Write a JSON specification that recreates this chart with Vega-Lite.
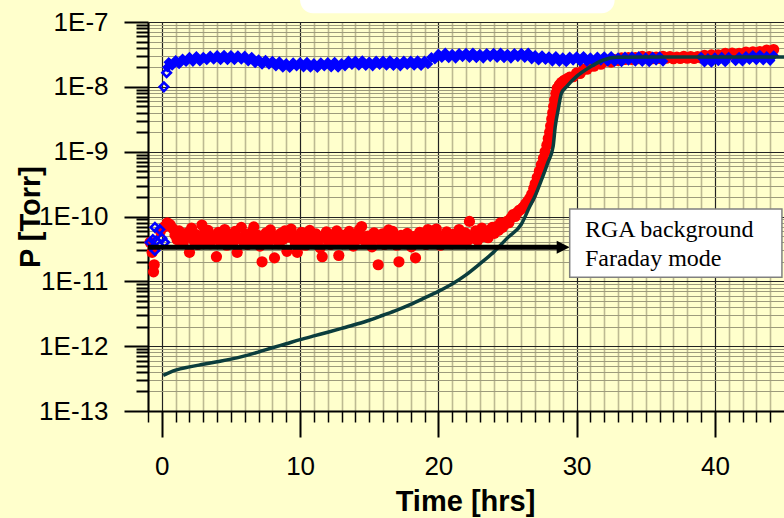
{
  "$schema": "https://vega.github.io/schema/vega-lite/v6.json",
  "width": 636,
  "height": 389,
  "autosize": {"type": "none"},
  "padding": {"left": 148, "top": 22, "right": 0, "bottom": 107},
  "background": "#FFFFCC",
  "config": {"view": {"stroke": null}},
  "resolve": {"axis": {"x": "independent", "y": "independent"}},
  "layer": [
    {
      "data": {"values": [{"x1": 10.0, "x2": 32.75, "p1": 1e-6, "p2": 1.36e-7}]},
      "mark": {"type": "rect", "fill": "#FFFFFF", "cornerRadius": 13},
      "encoding": {
        "x": {"field": "x1", "type": "quantitative", "scale": {"domain": [-1, 45], "nice": false, "zero": false}, "axis": null},
        "x2": {"field": "x2"},
        "y": {"field": "p1", "type": "quantitative", "scale": {"type": "log", "domain": [1e-13, 1e-7], "nice": false}, "axis": null},
        "y2": {"field": "p2"}
      }
    },
    {
      "data": {"values": [
        {"t":-0.85,"p":4.0e-11},{"t":-0.7,"p":2.8e-11},{"t":-0.55,"p":1.8e-11},{"t":-0.6,"p":1.4e-11},{"t":-0.1,"p":5.9e-11},{"t":0.2,"p":7.0e-11},{"t":0.4,"p":8.0e-11},{"t":0.6,"p":7.5e-11},
        {"t":0.8,"p":6.5e-11},{"t":0.95,"p":5.2e-11},{"t":1.1,"p":4.4e-11},{"t":1.25,"p":6.0e-11},{"t":1.4,"p":5.1e-11},{"t":1.55,"p":3.9e-11},{"t":1.7,"p":4.7e-11},{"t":1.85,"p":5.6e-11},{"t":2.0,"p":2.8e-11},{"t":2.15,"p":6.6e-11},{"t":2.3,"p":4.3e-11},{"t":2.45,"p":5.3e-11},{"t":2.6,"p":3.7e-11},{"t":2.75,"p":4.9e-11},{"t":2.9,"p":7.4e-11},{"t":3.05,"p":5.5e-11},{"t":3.2,"p":4.2e-11},{"t":3.35,"p":6.1e-11},{"t":3.5,"p":3.8e-11},{"t":3.65,"p":5.0e-11},{"t":3.8,"p":4.5e-11},{"t":3.95,"p":2.4e-11},{"t":4.1,"p":5.7e-11},{"t":4.25,"p":4.0e-11},{"t":4.4,"p":4.8e-11},{"t":4.55,"p":6.3e-11},{"t":4.7,"p":3.6e-11},{"t":4.85,"p":5.2e-11},{"t":5.0,"p":4.4e-11},{"t":5.15,"p":3.9e-11},{"t":5.3,"p":5.9e-11},{"t":5.45,"p":2.8e-11},{"t":5.6,"p":4.6e-11},{"t":5.75,"p":6.8e-11},{"t":5.9,"p":4.1e-11},{"t":6.05,"p":5.3e-11},{"t":6.2,"p":3.7e-11},{"t":6.35,"p":4.9e-11},{"t":6.5,"p":5.8e-11},{"t":6.65,"p":6.9e-11},{"t":6.8,"p":4.3e-11},{"t":6.95,"p":5.1e-11},{"t":7.1,"p":3.5e-11},{"t":7.25,"p":2.0e-11},{"t":7.4,"p":4.7e-11},{"t":7.55,"p":5.6e-11},{"t":7.7,"p":4.0e-11},{"t":7.85,"p":6.2e-11},{"t":8.0,"p":4.6e-11},{"t":8.15,"p":2.3e-11},{"t":8.3,"p":5.0e-11},{"t":8.45,"p":3.8e-11},{"t":8.6,"p":5.5e-11},{"t":8.75,"p":4.4e-11},{"t":8.9,"p":6.0e-11},{"t":9.05,"p":2.9e-11},{"t":9.2,"p":4.8e-11},{"t":9.35,"p":6.4e-11},{"t":9.5,"p":5.2e-11},{"t":9.65,"p":3.9e-11},{"t":9.8,"p":2.8e-11},{"t":9.95,"p":4.5e-11},{"t":10.1,"p":5.7e-11},{"t":10.25,"p":4.2e-11},{"t":10.4,"p":3.6e-11},{"t":10.55,"p":5.0e-11},{"t":10.7,"p":6.1e-11},{"t":10.85,"p":4.7e-11},{"t":11.0,"p":3.9e-11},{"t":11.15,"p":5.4e-11},{"t":11.3,"p":4.3e-11},{"t":11.45,"p":3.3e-11},{"t":11.6,"p":2.4e-11},{"t":11.75,"p":4.9e-11},{"t":11.9,"p":5.8e-11},{"t":12.05,"p":4.1e-11},{"t":12.2,"p":3.7e-11},{"t":12.35,"p":5.2e-11},{"t":12.5,"p":4.5e-11},{"t":12.65,"p":6.0e-11},{"t":12.8,"p":2.5e-11},{"t":12.95,"p":4.0e-11},{"t":13.1,"p":5.1e-11},{"t":13.25,"p":3.8e-11},{"t":13.4,"p":4.7e-11},{"t":13.55,"p":5.9e-11},{"t":13.7,"p":4.2e-11},{"t":13.85,"p":3.5e-11},{"t":14.0,"p":5.3e-11},{"t":14.15,"p":4.4e-11},{"t":14.3,"p":6.3e-11},{"t":14.45,"p":7.0e-11},{"t":14.6,"p":4.6e-11},{"t":14.75,"p":3.9e-11},{"t":14.9,"p":5.0e-11},{"t":15.05,"p":4.1e-11},{"t":15.2,"p":3.4e-11},{"t":15.35,"p":5.6e-11},{"t":15.5,"p":4.8e-11},{"t":15.65,"p":1.8e-11},{"t":15.8,"p":4.3e-11},{"t":15.95,"p":5.4e-11},{"t":16.1,"p":3.7e-11},{"t":16.25,"p":4.9e-11},{"t":16.4,"p":6.2e-11},{"t":16.55,"p":4.0e-11},{"t":16.7,"p":5.9e-11},{"t":16.85,"p":4.5e-11},{"t":17.0,"p":3.6e-11},{"t":17.15,"p":2.0e-11},{"t":17.3,"p":5.1e-11},{"t":17.45,"p":4.2e-11},{"t":17.6,"p":3.8e-11},{"t":17.75,"p":5.5e-11},{"t":17.9,"p":4.6e-11},{"t":18.05,"p":3.4e-11},{"t":18.2,"p":4.9e-11},{"t":18.35,"p":2.3e-11},{"t":18.5,"p":4.4e-11},{"t":18.65,"p":5.7e-11},{"t":18.8,"p":4.0e-11},{"t":18.95,"p":5.2e-11},{"t":19.1,"p":3.7e-11},{"t":19.25,"p":6.3e-11},{"t":19.4,"p":4.7e-11},{"t":19.55,"p":3.9e-11},{"t":19.7,"p":5.4e-11},{"t":19.85,"p":6.4e-11},{"t":20.0,"p":4.3e-11},{"t":20.15,"p":3.6e-11},{"t":20.3,"p":5.0e-11},{"t":20.45,"p":4.5e-11},{"t":20.6,"p":5.8e-11},{"t":20.75,"p":4.1e-11},{"t":20.9,"p":3.8e-11},{"t":21.05,"p":5.3e-11},{"t":21.2,"p":4.8e-11},{"t":21.35,"p":3.9e-11},{"t":21.5,"p":6.3e-11},{"t":21.65,"p":5.1e-11},{"t":21.8,"p":4.4e-11},{"t":21.95,"p":5.6e-11},{"t":22.1,"p":4.2e-11},{"t":22.25,"p":8.4e-11},{"t":22.4,"p":5.0e-11},{"t":22.55,"p":4.6e-11},{"t":22.7,"p":6.0e-11},{"t":22.85,"p":4.3e-11},{"t":23.0,"p":5.4e-11},{"t":23.15,"p":6.6e-11},{"t":23.3,"p":4.9e-11},{"t":23.45,"p":5.8e-11},{"t":23.6,"p":4.7e-11},{"t":23.75,"p":6.2e-11},{"t":23.9,"p":6.8e-11},{"t":24.05,"p":5.5e-11},
        {"t":24.2,"p":7.0e-11},{"t":24.35,"p":6.1e-11},{"t":24.5,"p":8.0e-11},{"t":24.65,"p":6.8e-11},{"t":24.8,"p":7.6e-11},{"t":24.95,"p":8.4e-11},{"t":25.1,"p":8.0e-11},{"t":25.25,"p":9.5e-11},{"t":25.4,"p":1.07e-10},{"t":25.55,"p":1.0e-10},{"t":25.7,"p":1.15e-10},{"t":25.85,"p":1.25e-10},{"t":26.0,"p":1.3e-10},{"t":26.15,"p":1.4e-10},{"t":26.3,"p":1.55e-10},{"t":26.45,"p":1.7e-10},{"t":26.6,"p":1.9e-10},{"t":26.75,"p":2.2e-10},{"t":26.9,"p":2.7e-10},
        {"t":27.0,"p":3.2e-10},{"t":27.15,"p":4.0e-10},{"t":27.3,"p":5.0e-10},{"t":27.45,"p":6.3e-10},{"t":27.6,"p":7.9e-10},{"t":27.72,"p":1.0e-9},{"t":27.85,"p":1.26e-9},{"t":27.95,"p":1.6e-9},{"t":28.05,"p":2.0e-9},{"t":28.12,"p":2.5e-9},{"t":28.2,"p":3.2e-9},{"t":28.27,"p":4.0e-9},{"t":28.34,"p":5.0e-9},{"t":28.41,"p":6.3e-9},{"t":28.5,"p":7.9e-9},{"t":28.6,"p":9.5e-9},{"t":28.75,"p":1.07e-8},{"t":28.9,"p":1.17e-8},{"t":29.1,"p":1.26e-8},{"t":29.3,"p":1.33e-8},
        {"t":29.5,"p":1.41e-8},{"t":29.75,"p":1.43e-8},{"t":30.0,"p":1.64e-8},{"t":30.25,"p":1.61e-8},{"t":30.5,"p":1.86e-8},{"t":30.75,"p":1.87e-8},{"t":31.0,"p":2.10e-8},{"t":31.25,"p":2.08e-8},{"t":31.5,"p":2.31e-8},{"t":31.75,"p":2.23e-8},{"t":32.0,"p":2.45e-8},
        {"t":32.25,"p":2.54e-8},{"t":32.5,"p":2.41e-8},{"t":32.75,"p":2.62e-8},{"t":33.0,"p":2.55e-8},{"t":33.25,"p":2.79e-8},{"t":33.5,"p":2.64e-8},{"t":33.75,"p":2.83e-8},{"t":34.0,"p":2.64e-8},{"t":34.25,"p":2.83e-8},{"t":34.5,"p":2.71e-8},{"t":34.75,"p":2.95e-8},{"t":35.0,"p":2.76e-8},{"t":35.25,"p":2.93e-8},{"t":35.5,"p":2.71e-8},{"t":35.75,"p":2.88e-8},{"t":36.0,"p":2.74e-8},{"t":36.25,"p":2.96e-8},{"t":36.5,"p":2.76e-8},{"t":36.75,"p":2.93e-8},{"t":37.0,"p":2.71e-8},{"t":37.25,"p":2.88e-8},{"t":37.5,"p":2.74e-8},{"t":37.75,"p":2.96e-8},{"t":38.0,"p":2.76e-8},{"t":38.25,"p":2.94e-8},{"t":38.5,"p":2.74e-8},{"t":38.75,"p":2.93e-8},{"t":39.0,"p":2.79e-8},{"t":39.25,"p":3.07e-8},{"t":39.5,"p":2.89e-8},{"t":39.75,"p":3.11e-8},{"t":40.0,"p":2.90e-8},{"t":40.25,"p":3.11e-8},{"t":40.5,"p":3.00e-8},{"t":40.75,"p":3.28e-8},{"t":41.0,"p":3.10e-8},{"t":41.25,"p":3.31e-8},{"t":41.5,"p":3.07e-8},{"t":41.75,"p":3.28e-8},{"t":42.0,"p":3.14e-8},{"t":42.25,"p":3.44e-8},{"t":42.5,"p":3.24e-8},{"t":42.75,"p":3.48e-8},{"t":43.0,"p":3.25e-8},{"t":43.25,"p":3.50e-8},{"t":43.5,"p":3.37e-8},{"t":43.75,"p":3.69e-8},{"t":44.0,"p":3.48e-8},{"t":44.25,"p":3.76e-8}
      ]},
      "mark": {"type": "point", "shape": "circle", "filled": true, "size": 125, "color": "#FF0000", "opacity": 1},
      "encoding": {
        "x": {"field": "t", "type": "quantitative", "axis": {
          "orient": "bottom", "values": [-1,1,2,3,4,5,6,7,8,9,11,12,13,14,15,16,17,18,19,21,22,23,24,25,26,27,28,29,31,32,33,34,35,36,37,38,39,41,42,43,44],
          "grid": true, "gridColor": "#bdba92", "gridWidth": 1.6, "tickSize": 11, "tickWidth": 1.5, "tickColor": "#000000",
          "labels": false, "domain": false, "title": null}},
        "y": {"field": "p", "type": "quantitative", "axis": {
          "orient": "left", "values": [2e-13,3e-13,4e-13,5e-13,6e-13,7e-13,8e-13,9e-13,2e-12,3e-12,4e-12,5e-12,6e-12,7e-12,8e-12,9e-12,2e-11,3e-11,4e-11,5e-11,6e-11,7e-11,8e-11,9e-11,2e-10,3e-10,4e-10,5e-10,6e-10,7e-10,8e-10,9e-10,2e-9,3e-9,4e-9,5e-9,6e-9,7e-9,8e-9,9e-9,2e-8,3e-8,4e-8,5e-8,6e-8,7e-8,8e-8,9e-8],
          "grid": true, "gridColor": "#9d9b7c", "gridWidth": 1, "tickSize": 12, "tickWidth": 2, "tickColor": "#000000",
          "labels": false, "domain": false, "title": null}}
      }
    },
    {
      "data": {"values": [
        {"t":-0.85,"p":4.0e-11},{"t":-0.65,"p":4.4e-11},{"t":-0.5,"p":6.8e-11},{"t":-0.5,"p":3.0e-11},{"t":-0.4,"p":4.2e-11},{"t":-0.15,"p":6.3e-11},{"t":0.0,"p":4.6e-11},{"t":0.2,"p":4.0e-11},
        {"t":0.15,"p":1.0e-8},{"t":0.35,"p":1.65e-8}
      ]},
      "mark": {"type": "point", "shape": "diamond", "filled": false, "size": 72, "strokeWidth": 2.6, "color": "#0000FF", "opacity": 1},
      "encoding": {
        "x": {"field": "t", "type": "quantitative", "axis": null},
        "y": {"field": "p", "type": "quantitative", "axis": null}
      }
    },
    {
      "data": {"values": [
        {"t":0.4,"p":2.0e-8},
        {"t":0.5,"p":2.40e-8},{"t":0.75,"p":2.14e-8},{"t":1.0,"p":2.57e-8},{"t":1.25,"p":2.25e-8},{"t":1.5,"p":2.71e-8},{"t":1.75,"p":2.44e-8},{"t":2.0,"p":2.87e-8},{"t":2.25,"p":2.45e-8},{"t":2.5,"p":2.96e-8},{"t":2.75,"p":2.48e-8},{"t":3.0,"p":2.89e-8},{"t":3.25,"p":2.59e-8},{"t":3.5,"p":3.02e-8},{"t":3.75,"p":2.65e-8},{"t":4.0,"p":3.07e-8},{"t":4.25,"p":2.59e-8},{"t":4.5,"p":3.10e-8},{"t":4.75,"p":2.59e-8},{"t":5.0,"p":3.07e-8},{"t":5.25,"p":2.59e-8},{"t":5.5,"p":3.05e-8},{"t":5.75,"p":2.65e-8},{"t":6.0,"p":3.00e-8},{"t":6.25,"p":2.48e-8},{"t":6.5,"p":2.89e-8},{"t":6.75,"p":2.34e-8},{"t":7.0,"p":2.64e-8},{"t":7.25,"p":2.21e-8},{"t":7.5,"p":2.59e-8},{"t":7.75,"p":2.22e-8},{"t":8.0,"p":2.50e-8},{"t":8.25,"p":2.08e-8},{"t":8.5,"p":2.46e-8},
        {"t":8.75,"p":1.99e-8},{"t":9.0,"p":2.30e-8},{"t":9.25,"p":1.97e-8},{"t":9.5,"p":2.37e-8},{"t":9.75,"p":2.08e-8},{"t":10.0,"p":2.39e-8},{"t":10.25,"p":2.01e-8},{"t":10.5,"p":2.41e-8},{"t":10.75,"p":1.99e-8},{"t":11.0,"p":2.30e-8},{"t":11.25,"p":1.97e-8},{"t":11.5,"p":2.37e-8},{"t":11.75,"p":2.08e-8},{"t":12.0,"p":2.39e-8},{"t":12.25,"p":2.01e-8},{"t":12.5,"p":2.41e-8},{"t":12.75,"p":1.99e-8},{"t":13.0,"p":2.30e-8},
        {"t":13.25,"p":2.09e-8},{"t":13.5,"p":2.51e-8},{"t":13.75,"p":2.20e-8},{"t":14.0,"p":2.53e-8},{"t":14.25,"p":2.13e-8},{"t":14.5,"p":2.55e-8},{"t":14.75,"p":2.11e-8},{"t":15.0,"p":2.44e-8},{"t":15.25,"p":2.09e-8},{"t":15.5,"p":2.51e-8},{"t":15.75,"p":2.20e-8},{"t":16.0,"p":2.53e-8},{"t":16.25,"p":2.13e-8},{"t":16.5,"p":2.55e-8},{"t":16.75,"p":2.11e-8},{"t":17.0,"p":2.44e-8},{"t":17.25,"p":2.09e-8},{"t":17.5,"p":2.51e-8},{"t":17.75,"p":2.20e-8},{"t":18.0,"p":2.53e-8},{"t":18.25,"p":2.13e-8},{"t":18.5,"p":2.55e-8},{"t":18.75,"p":2.11e-8},
        {"t":19.0,"p":2.52e-8},{"t":19.25,"p":2.25e-8},{"t":19.5,"p":2.86e-8},{"t":19.75,"p":2.66e-8},{"t":20.0,"p":3.22e-8},
        {"t":20.25,"p":2.81e-8},{"t":20.5,"p":3.36e-8},{"t":20.75,"p":2.78e-8},{"t":21.0,"p":3.20e-8},{"t":21.25,"p":2.75e-8},{"t":21.5,"p":3.29e-8},{"t":21.75,"p":2.90e-8},{"t":22.0,"p":3.32e-8},{"t":22.25,"p":2.81e-8},{"t":22.5,"p":3.36e-8},{"t":22.75,"p":2.78e-8},{"t":23.0,"p":3.20e-8},{"t":23.25,"p":2.75e-8},{"t":23.5,"p":3.29e-8},{"t":23.75,"p":2.90e-8},{"t":24.0,"p":3.32e-8},{"t":24.25,"p":2.81e-8},{"t":24.5,"p":3.36e-8},{"t":24.75,"p":2.78e-8},{"t":25.0,"p":3.20e-8},{"t":25.25,"p":2.75e-8},{"t":25.5,"p":3.29e-8},{"t":25.75,"p":2.90e-8},{"t":26.0,"p":3.32e-8},{"t":26.25,"p":2.81e-8},{"t":26.5,"p":3.36e-8},
        {"t":26.75,"p":2.68e-8},{"t":27.0,"p":3.07e-8},{"t":27.25,"p":2.57e-8},{"t":27.5,"p":3.05e-8},{"t":27.75,"p":2.61e-8},
        {"t":28.0,"p":2.93e-8},{"t":28.25,"p":2.47e-8},{"t":28.5,"p":2.96e-8},{"t":28.75,"p":2.45e-8},{"t":29.0,"p":2.82e-8},{"t":29.25,"p":2.42e-8},{"t":29.5,"p":2.90e-8},{"t":29.75,"p":2.56e-8},{"t":30.0,"p":2.93e-8},{"t":30.25,"p":2.47e-8},{"t":30.5,"p":2.96e-8},{"t":30.75,"p":2.45e-8},{"t":31.0,"p":2.82e-8},{"t":31.25,"p":2.42e-8},{"t":31.5,"p":2.90e-8},{"t":31.75,"p":2.56e-8},{"t":32.0,"p":2.93e-8},{"t":32.25,"p":2.47e-8},{"t":32.5,"p":2.96e-8},{"t":32.75,"p":2.45e-8},{"t":33.0,"p":2.82e-8},{"t":33.25,"p":2.42e-8},{"t":33.5,"p":2.90e-8},{"t":33.75,"p":2.56e-8},{"t":34.0,"p":2.93e-8},{"t":34.25,"p":2.47e-8},{"t":34.5,"p":2.96e-8},{"t":34.75,"p":2.45e-8},{"t":35.0,"p":2.82e-8},{"t":35.25,"p":2.42e-8},{"t":35.5,"p":2.90e-8},{"t":35.75,"p":2.56e-8},{"t":36.0,"p":2.93e-8},{"t":36.25,"p":2.47e-8},
        {"t":39.0,"p":2.89e-8},{"t":39.25,"p":2.39e-8},{"t":39.5,"p":2.76e-8},{"t":39.75,"p":2.37e-8},{"t":40.0,"p":2.84e-8},{"t":40.25,"p":2.50e-8},{"t":40.5,"p":2.87e-8},{"t":40.75,"p":2.42e-8},{"t":41.0,"p":2.89e-8},
        {"t":41.5,"p":2.50e-8},{"t":41.75,"p":2.89e-8},{"t":42.0,"p":2.48e-8},{"t":42.25,"p":2.97e-8},{"t":42.5,"p":2.61e-8},
        {"t":42.75,"p":3.07e-8},{"t":43.0,"p":2.59e-8},{"t":43.25,"p":3.10e-8},{"t":43.5,"p":2.57e-8},{"t":43.75,"p":2.96e-8},{"t":44.0,"p":2.54e-8},{"t":44.25,"p":3.05e-8}
      ]},
      "mark": {"type": "point", "shape": "diamond", "filled": true, "size": 72, "strokeWidth": 1.5, "stroke": "#0000FF", "color": "#0000FF", "opacity": 1},
      "encoding": {
        "x": {"field": "t", "type": "quantitative", "axis": {
          "orient": "bottom", "values": [0, 10, 20, 30, 40],
          "grid": true, "gridColor": "#222222", "gridWidth": 1.2, "tickSize": 26, "tickWidth": 2, "tickColor": "#000000",
          "domain": true, "domainColor": "#000000", "domainWidth": 2,
          "labelFont": "Liberation Sans", "labelFontSize": 26, "labelColor": "#000000", "labelPadding": 16, "labelFlush": false, "labelOverlap": false, "format": "d",
          "title": "Time [hrs]", "titleFont": "Liberation Sans", "titleFontSize": 29, "titleFontWeight": "bold", "titleColor": "#000000",
          "titleX": 317, "titleY": 99, "titleBaseline": "alphabetic", "titleAlign": "center"}},
        "y": {"field": "p", "type": "quantitative", "axis": {
          "orient": "left", "values": [1e-13, 1e-12, 1e-11, 1e-10, 1e-9, 1e-8, 1e-7],
          "grid": true, "gridColor": "#222222", "gridWidth": 1.2, "tickSize": 24, "tickWidth": 2, "tickColor": "#000000",
          "domain": true, "domainColor": "#000000", "domainWidth": 2,
          "labelFont": "Liberation Sans", "labelFontSize": 26, "labelColor": "#000000", "labelPadding": 16, "labelFlush": false, "labelOverlap": false,
          "labelExpr": "'1E' + round(log(datum.value) / LN10)",
          "title": "P [Torr]", "titleFont": "Liberation Sans", "titleFontSize": 29, "titleFontWeight": "bold", "titleColor": "#000000",
          "titleX": -118, "titleY": 194.5, "titleBaseline": "middle", "titleAlign": "center", "titleAngle": -90}}
      }
    },
    {
      "data": {"values": [
        {"t":0.1,"p":3.55e-13},{"t":1,"p":4.27e-13},{"t":2,"p":4.79e-13},{"t":3,"p":5.25e-13},{"t":4,"p":5.75e-13},{"t":5,"p":6.31e-13},{"t":6,"p":7.08e-13},{"t":7,"p":8.13e-13},{"t":8,"p":9.44e-13},{"t":9,"p":1.09e-12},{"t":10,"p":1.26e-12},{"t":11,"p":1.44e-12},{"t":12,"p":1.64e-12},{"t":13,"p":1.88e-12},{"t":14,"p":2.16e-12},{"t":15,"p":2.51e-12},{"t":16,"p":3.00e-12},{"t":17,"p":3.60e-12},{"t":18,"p":4.42e-12},{"t":19,"p":5.55e-12},{"t":20,"p":7.00e-12},{"t":21,"p":9.12e-12},{"t":22,"p":1.26e-11},{"t":23,"p":1.86e-11},{"t":24,"p":2.82e-11},{"t":25,"p":4.68e-11},{"t":26,"p":7.59e-11},{"t":26.6,"p":1.41e-10},{"t":27,"p":2.09e-10},{"t":27.45,"p":3.63e-10},{"t":27.9,"p":6.61e-10},{"t":28.3,"p":1.20e-9},{"t":28.45,"p":2.40e-9},{"t":28.66,"p":4.37e-9},{"t":28.9,"p":7.94e-9},{"t":29.26,"p":1.0e-8},{"t":30,"p":1.45e-8},{"t":31,"p":2.04e-8},{"t":31.9,"p":2.57e-8},{"t":32.9,"p":2.85e-8},{"t":35,"p":2.88e-8},{"t":40,"p":2.88e-8},{"t":45,"p":2.88e-8}
      ]},
      "mark": {"type": "line", "color": "#0B3D3D", "strokeWidth": 3.5, "interpolate": "monotone"},
      "encoding": {
        "x": {"field": "t", "type": "quantitative", "axis": null},
        "y": {"field": "p", "type": "quantitative", "axis": null}
      }
    },
    {
      "data": {"values": [{"x1": -1, "x2": 28.6, "p": 3.37e-11}]},
      "mark": {"type": "rule", "color": "#000000", "strokeWidth": 5},
      "encoding": {
        "x": {"field": "x1", "type": "quantitative", "axis": null},
        "x2": {"field": "x2"},
        "y": {"field": "p", "type": "quantitative", "axis": null}
      }
    },
    {
      "data": {"values": [{"t": 29.03, "p": 3.37e-11}]},
      "mark": {"type": "point", "shape": "M-1,-1L1,0L-1,1Z", "filled": true, "size": 169, "color": "#000000", "opacity": 1, "strokeWidth": 0},
      "encoding": {
        "x": {"field": "t", "type": "quantitative", "axis": null},
        "y": {"field": "p", "type": "quantitative", "axis": null}
      }
    },
    {
      "data": {"values": [{"x1": 29.5, "x2": 44.85, "p1": 1.30e-10, "p2": 1.16e-11}]},
      "mark": {"type": "rect", "fill": "#FFFFFF", "stroke": "#808080", "strokeWidth": 1.5},
      "encoding": {
        "x": {"field": "x1", "type": "quantitative", "axis": null},
        "x2": {"field": "x2"},
        "y": {"field": "p1", "type": "quantitative", "axis": null},
        "y2": {"field": "p2"}
      }
    },
    {
      "data": {"values": [{"t": 30.6, "p": 4.76e-11, "label": "RGA background"}, {"t": 30.6, "p": 1.72e-11, "label": "Faraday mode"}]},
      "mark": {"type": "text", "font": "Liberation Serif", "fontSize": 24, "align": "left", "baseline": "alphabetic", "color": "#000000"},
      "encoding": {
        "x": {"field": "t", "type": "quantitative", "axis": null},
        "y": {"field": "p", "type": "quantitative", "axis": null},
        "text": {"field": "label"}
      }
    }
  ]
}
